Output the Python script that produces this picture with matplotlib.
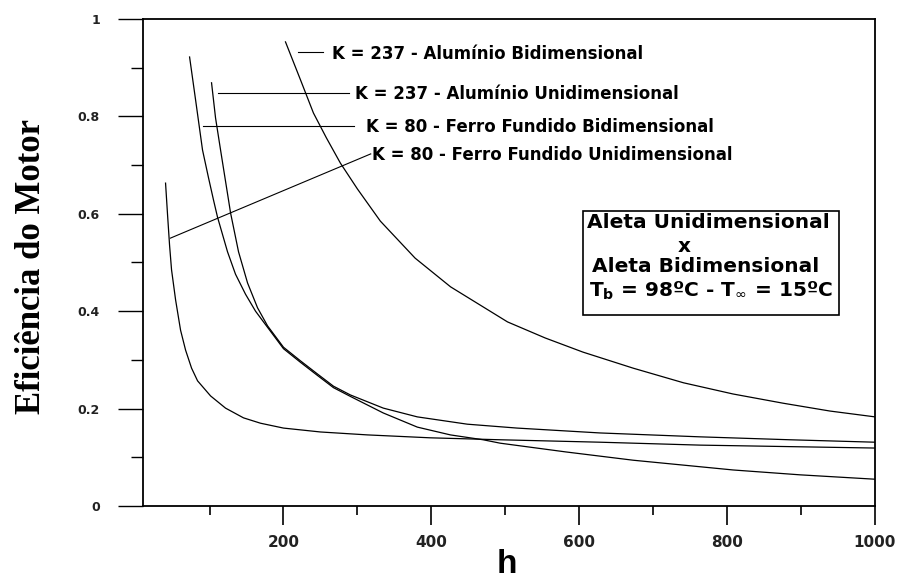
import matplotlib
matplotlib.use("Agg")
import matplotlib.pyplot as plt
from matplotlib.patches import Rectangle
from matplotlib.ticker import MultipleLocator

plt.rcParams["mathtext.fontset"] = "dejavusans"

# ---- data ----
h_al_bi = [202.7, 223, 240.5, 258, 277, 300, 331, 378, 426, 503, 554, 605, 673, 741,
           808, 876, 939, 1000]
ef_al_bi = [0.953, 0.875, 0.807, 0.756, 0.704, 0.651, 0.585, 0.509, 0.450, 0.378, 0.345,
            0.316, 0.283, 0.253, 0.230, 0.211, 0.195, 0.183]

h_al_uni = [102.7, 108.1, 114.9, 125.7, 128.4, 139.2, 151.4, 164.9, 178.4, 200, 223, 246,
            267.6, 290.5, 335, 381, 448.6, 516, 628, 763.5, 885, 1000]
ef_al_uni = [0.869, 0.797, 0.731, 0.628, 0.602, 0.522, 0.458, 0.407, 0.370, 0.326, 0.298,
             0.271, 0.246, 0.228, 0.201, 0.183, 0.168, 0.160, 0.150, 0.142, 0.136, 0.131]

h_fe_bi = [73.0, 81.1, 90.5, 98.6, 105.4, 110.8, 124.3, 135.1, 148.6, 162.2, 178.4, 200,
           223, 246, 267.6, 290.5, 335, 381, 425.7, 470, 493, 582, 673, 808, 898.6, 1000]
ef_fe_bi = [0.922, 0.834, 0.731, 0.674, 0.628, 0.593, 0.522, 0.476, 0.435, 0.400, 0.367,
            0.323, 0.295, 0.268, 0.243, 0.225, 0.191, 0.162, 0.146, 0.136, 0.129, 0.111,
            0.094, 0.074, 0.064, 0.055]

h_fe_uni = [40.5, 43.2, 45.9, 48.6, 54.1, 60.8, 67.6, 75.7, 83.8, 101.4, 121.6, 145.9,
            168.9, 200, 250, 313.5, 398.6, 493, 628, 763.5, 1000]
ef_fe_uni = [0.663, 0.598, 0.536, 0.485, 0.423, 0.361, 0.320, 0.283, 0.257, 0.226, 0.201,
             0.181, 0.170, 0.160, 0.152, 0.146, 0.140, 0.136, 0.131, 0.125, 0.119]

labels = ["K = 237 - Alumínio Bidimensional",
          "K = 237 - Alumínio Unidimensional",
          "K = 80 - Ferro Fundido Bidimensional",
          "K = 80 - Ferro Fundido Unidimensional"]

x_ticks = [200, 400, 600, 800, 1000]
y_ticks = [0, 0.2, 0.4, 0.6, 0.8, 1]
y_ticklabels = ["0", "0.2", "0.4", "0.6", "0.8", "1"]

# ---- figure ----
fig = plt.figure(figsize=(9.03, 5.79), dpi=100)
ax = fig.add_axes([143/903, 73/579, 732/903, 487/579])

lw = 0.9
ax.plot(h_al_bi, ef_al_bi, color="black", lw=lw)
ax.plot(h_al_uni, ef_al_uni, color="black", lw=lw)
ax.plot(h_fe_bi, ef_fe_bi, color="black", lw=lw)
ax.plot(h_fe_uni, ef_fe_uni, color="black", lw=lw)

ax.set_xlim(10, 1000)
ax.set_ylim(0, 1)

ax.set_xticks(x_ticks)
ax.set_xticklabels([str(t) for t in x_ticks])
ax.set_yticks(y_ticks)
ax.set_yticklabels(y_ticklabels)
ax.xaxis.set_minor_locator(MultipleLocator(100))
ax.yaxis.set_minor_locator(MultipleLocator(0.1))

for s in ax.spines.values():
    s.set_linewidth(1.3)

ax.tick_params(axis="x", which="major", direction="out", length=14, width=1.2, pad=7,
               labelsize=11)
ax.tick_params(axis="x", which="minor", direction="out", length=6.5, width=1.2)
ax.tick_params(axis="y", which="major", direction="out", length=18, width=1.0, pad=13,
               labelsize=9)
ax.tick_params(axis="y", which="minor", direction="out", length=9, width=1.0)
for lab in ax.get_xticklabels() + ax.get_yticklabels():
    lab.set_fontweight("bold")
    lab.set_family("DejaVu Sans")
    lab.set_color("#222222")

# axis labels
fig.text(32/903, 1 - 266/579, "Eficiência do Motor", rotation=90, ha="center", va="center",
         family="Liberation Serif", fontweight="bold", fontsize=25)
fig.text(507/903, 1 - 549/579, "h", ha="center", va="top",
         family="Liberation Sans", fontweight="bold", fontsize=24)

# curve labels with leader lines
lab_font = dict(family="DejaVu Sans", fontweight="bold", fontsize=12, va="center", ha="left")
ax.plot([219, 253], [0.932, 0.932], color="black", lw=0.8)
ax.text(266, 0.929, labels[0], **lab_font)
ax.plot([111, 288], [0.848, 0.848], color="black", lw=0.8)
ax.text(297, 0.846, labels[1], **lab_font)
ax.plot([91, 295], [0.780, 0.780], color="black", lw=0.8)
ax.text(312, 0.778, labels[2], **lab_font)
ax.plot([47, 318], [0.55, 0.723], color="black", lw=0.8)
ax.text(320, 0.720, labels[3], **lab_font)

# info box
ax.add_patch(Rectangle((0.601, 0.392), 0.350, 0.214, transform=ax.transAxes,
                       fill=True, fc="white", ec="black", lw=1.2, zorder=3))
box_font = dict(family="DejaVu Sans", fontweight="bold", fontsize=14.5, ha="center",
                va="center", transform=ax.transAxes, zorder=4)
ax.text(0.773, (506-222)/487, "Aleta Unidimensional", **box_font)
ax.text(0.740, (506-247)/487, "x", **box_font)
ax.text(0.768, (506-267)/487, "Aleta Bidimensional", **box_font)
ax.text(0.776, (506-291)/487, r"T$_{\mathbf{b}}$ = 98ºC - T$_{\infty}$ = 15ºC", **box_font)

fig.savefig("out.png", dpi=100, facecolor="white")
